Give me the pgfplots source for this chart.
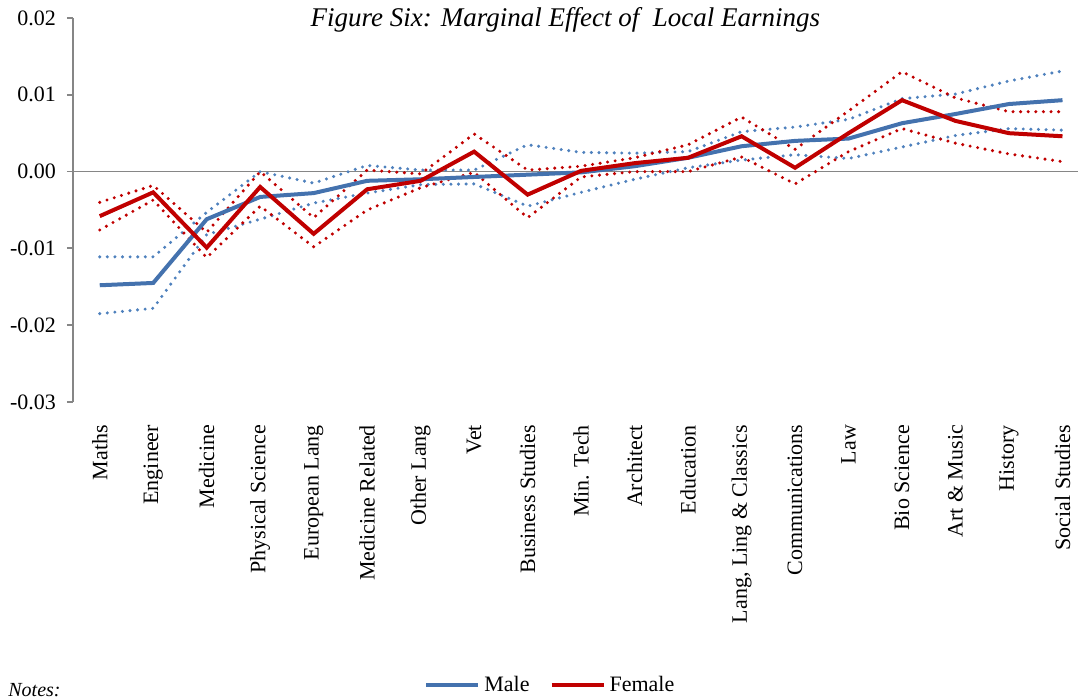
\documentclass[border=0pt]{standalone}
\usepackage{fontspec}
\setmainfont{Liberation Serif}
\usepackage{pgfplots}
\usepackage{pgfplotstable}
\pgfplotsset{compat=1.18}

\definecolor{maleblue}{RGB}{68,114,174}
\definecolor{maledot}{RGB}{79,129,189}
\definecolor{femred}{RGB}{192,0,0}
\definecolor{axgray}{RGB}{134,134,134}

% m = male, f = female; u/l = upper/lower bands
\pgfplotstableread{
x  m       mu      ml      f       fu      fl
0  -0.0148 -0.0111 -0.0185 -0.0058 -0.0040 -0.0076
1  -0.0145 -0.0111 -0.0178 -0.0027 -0.0018 -0.0037
2  -0.0062 -0.0053 -0.0082 -0.0099 -0.0079 -0.0112
3  -0.0033  0.0000 -0.0062 -0.0020  0.0000 -0.0045
4  -0.0028 -0.0015 -0.0041 -0.0081 -0.0060 -0.0098
5  -0.0012  0.0008 -0.0028 -0.0023  0.0002 -0.0050
6  -0.0010  0.0002 -0.0017 -0.0012 -0.0003 -0.0021
7  -0.0007  0.0002 -0.0016  0.0026  0.0049 -0.0001
8  -0.0004  0.0035 -0.0045 -0.0030  0.0002 -0.0060
9  -0.0001  0.0025 -0.0027  0.0001  0.0007 -0.0007
10  0.0007  0.0024 -0.0010  0.0011  0.0018  0.0000
11  0.0018  0.0026  0.0005  0.0018  0.0035  0.0000
12  0.0033  0.0052  0.0015  0.0046  0.0071  0.0019
13  0.0040  0.0058  0.0022  0.0005  0.0029 -0.0016
14  0.0043  0.0068  0.0017  0.0050  0.0079  0.0026
15  0.0063  0.0095  0.0032  0.0093  0.0130  0.0056
16  0.0075  0.0101  0.0047  0.0066  0.0096  0.0037
17  0.0088  0.0118  0.0056  0.0050  0.0078  0.0023
18  0.0093  0.0131  0.0054  0.0046  0.0078  0.0013
}\data

\tikzset{ci/.style={line width=1.7pt, line cap=round, dash pattern=on 0pt off 3.8pt}}

\begin{document}
\begin{tikzpicture}
\begin{axis}[
    name=ax,
    scale only axis,
    width=502.5pt, height=192pt,
    xmin=-0.5, xmax=18.29,
    ymin=-0.03, ymax=0.02,
    ytick={-0.03,-0.02,...,0.021},
    scaled y ticks=false,
    yticklabel style={xshift=-2pt, /pgf/number format/fixed, /pgf/number format/fixed zerofill, /pgf/number format/precision=2, /pgf/number format/assume math mode=true},
    ticklabel style={font=\fontsize{11}{13}\selectfont},
    xtick={0,...,18},
    xticklabels={Maths, Engineer, Medicine, Physical Science, European Lang, Medicine Related, Other Lang, Vet, Business Studies, Min. Tech, Architect, Education, {Lang, Ling \& Classics}, Communications, Law, Bio Science, Art \& Music, History, Social Studies},
    xticklabel style={rotate=90, anchor=east, xshift=-5pt},
    axis y line*=left,
    axis x line*=bottom,
    x axis line style={draw=none},
    y axis line style={axgray, line width=0.9pt},
    xtick style={draw=none},
    ytick style={axgray, line width=0.9pt},
    tick align=outside,
    major tick length=3pt,
    clip=false,
    legend style={draw=none, at={(0.476,-0.737)}, anchor=center, legend columns=-1,
        font=\fontsize{11}{13}\selectfont,
        /tikz/every even column/.append style={column sep=8pt}},
    legend image code/.code={\draw[#1] (0pt,0pt) -- (26pt,0pt);},
]
\addplot[axgray, line width=0.9pt, forget plot] coordinates {(-0.5,0) (18.29,0)};
\addplot[maledot, ci, forget plot] table[x=x, y=mu] \data;
\addplot[maledot, ci, forget plot] table[x=x, y=ml] \data;
\addplot[femred, ci, forget plot] table[x=x, y=fu] \data;
\addplot[femred, ci, forget plot] table[x=x, y=fl] \data;
\addplot[maleblue, line width=2pt] table[x=x, y=m] \data;
\addplot[femred, line width=2pt] table[x=x, y=f] \data;
\legend{Male, Female}
\node[font=\fontsize{13.5}{15}\selectfont\itshape] at (rel axis cs:0.49,0.995) {Figure Six: Marginal Effect of\ \ Local Earnings};
\end{axis}
\node[anchor=south west, font=\fontsize{10}{12}\selectfont\itshape, inner sep=0pt] at ([xshift=-32.5pt, yshift=-147.5pt]ax.south west) {Notes:};
\pgfresetboundingbox
\path[use as bounding box] ([xshift=-36.5pt, yshift=9pt]ax.north west) rectangle ([yshift=-148.5pt]ax.south east);
\end{tikzpicture}
\end{document}
